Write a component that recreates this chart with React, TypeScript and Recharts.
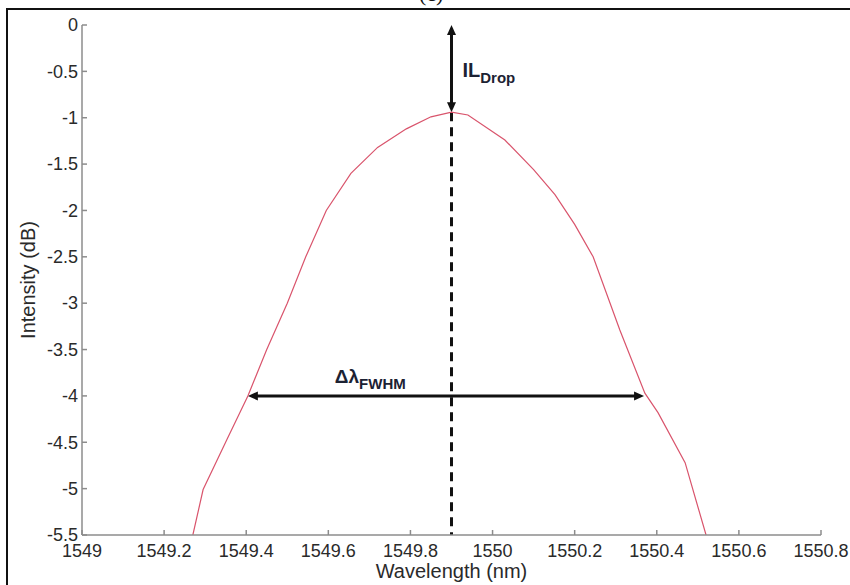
import { LineChart, Line, XAxis, YAxis, ReferenceLine } from 'recharts';

// wavelength (nm) / intensity (dB)
const wavelength = [
  1549.27, 1549.295, 1549.353, 1549.404, 1549.45, 1549.5, 1549.545, 1549.595, 1549.655,
  1549.72, 1549.79, 1549.85, 1549.9, 1549.94, 1550.03, 1550.1,
  1550.152, 1550.2, 1550.245, 1550.31, 1550.371, 1550.403, 1550.469, 1550.52,
];
const intensity = [
  -5.5, -5.01, -4.47, -4.0, -3.5, -3.0, -2.5, -2.0, -1.6,
  -1.32, -1.12, -0.99, -0.94, -0.97, -1.24, -1.56,
  -1.83, -2.15, -2.5, -3.29, -3.97, -4.18, -4.72, -5.5,
];

const xTicks = [1549, 1549.2, 1549.4, 1549.6, 1549.8, 1550, 1550.2, 1550.4, 1550.6, 1550.8];
const yTicks = [0, -0.5, -1, -1.5, -2, -2.5, -3, -3.5, -4, -4.5, -5, -5.5];

// annotation values
const peakWavelength = 1549.9;
const peakLevel = -0.94;
const fwhmLevel = -4;
const fwhmLeft = 1549.404;
const fwhmRight = 1550.369;

const data = wavelength.map((w, i) => ({ w, v: intensity[i] }));

const FONT = '"Liberation Sans", Arial, Helvetica, sans-serif';
const AXIS = '#8c8c8c';
const TEXT = '#2a2a2a';
const TM = 4;
const fmt = (v: number) => String(Number(v.toFixed(1)));

const BottomTick = ({ x, y, payload }: any) => (
  <g>
    <line x1={x} x2={x} y1={y - TM} y2={y - TM - 5} stroke={AXIS} strokeWidth={1.5} />
    <text x={x} y={y + 18} textAnchor="middle" fontSize={18} fontFamily={FONT} fill={TEXT}>
      {fmt(payload.value)}
    </text>
  </g>
);

const LeftTick = ({ x, y, payload }: any) => (
  <g>
    <line x1={x + TM} x2={x + TM + 5} y1={y} y2={y} stroke={AXIS} strokeWidth={1.5} />
    <text x={x} y={y} dy="0.35em" textAnchor="end" fontSize={18} fontFamily={FONT} fill={TEXT}>
      {fmt(payload.value)}
    </text>
  </g>
);

const TopTick = ({ x, y }: any) => (
  <line x1={x} x2={x} y1={y + TM} y2={y + TM + 5} stroke={AXIS} strokeWidth={1.5} />
);

const RightTick = ({ x, y }: any) => (
  <line x1={x - TM} x2={x - TM - 5} y1={y} y2={y} stroke={AXIS} strokeWidth={1.5} />
);

const heads = (x1: number, y1: number, x2: number, y2: number, hl: number, hw: number) => {
  const len = Math.hypot(x2 - x1, y2 - y1) || 1;
  const ux = (x2 - x1) / len;
  const uy = (y2 - y1) / len;
  const tri = (tx: number, ty: number, dx: number, dy: number) => {
    const bx = tx - dx * hl;
    const by = ty - dy * hl;
    return `${tx},${ty} ${bx - dy * hw},${by + dx * hw} ${bx + dy * hw},${by - dx * hw}`;
  };
  return { ux, uy, a: tri(x1, y1, -ux, -uy), b: tri(x2, y2, ux, uy) };
};

const DoubleArrow = ({ x1, y1, x2, y2, children }: any) => {
  const h = heads(x1, y1, x2, y2, 10, 4.5);
  return (
    <g>
      <line
        x1={x1 + h.ux * 6}
        y1={y1 + h.uy * 6}
        x2={x2 - h.ux * 6}
        y2={y2 - h.uy * 6}
        stroke="#111"
        strokeWidth={3}
      />
      <polygon points={h.a} fill="#111" />
      <polygon points={h.b} fill="#111" />
      {children}
    </g>
  );
};

const ILArrow = (p: any) => (
  <DoubleArrow {...p}>
    <text x={p.x1 + 11} y={p.y1 + 52} fontFamily={FONT} fontWeight="bold" fill="#1c2233">
      <tspan fontSize={20}>IL</tspan>
      <tspan fontSize={15} dy={6}>Drop</tspan>
    </text>
  </DoubleArrow>
);

const FwhmArrow = (p: any) => (
  <DoubleArrow {...p}>
    <text x={p.x1 + 87} y={p.y1 - 13} fontFamily={FONT} fontWeight="bold" fill="#1c2233">
      <tspan fontSize={19}>Δλ</tspan>
      <tspan fontSize={15} dy={6}>FWHM</tspan>
    </text>
  </DoubleArrow>
);

const DashedDrop = ({ x1, y1, x2, y2 }: any) => (
  <line x1={x1} y1={y1} x2={x2} y2={y2} stroke="#111" strokeWidth={3} strokeDasharray="9 6" />
);

export default function App() {
  return (
    <div
      style={{
        position: 'absolute',
        left: 0,
        top: 0,
        width: 850,
        height: 585,
        overflow: 'hidden',
        background: '#fff',
      }}
    >
      <div
        style={{
          position: 'absolute',
          left: 6,
          top: 8,
          width: 900,
          height: 700,
          borderTop: '2px solid #111',
          borderLeft: '2px solid #111',
        }}
      />
      <div
        style={{
          position: 'absolute',
          left: 419,
          top: -17,
          fontFamily: '"Liberation Serif", serif',
          fontSize: 22,
          lineHeight: '22px',
          color: '#111',
        }}
      >
        (c)
      </div>
      <div style={{ position: 'absolute', left: 0, top: 0 }}>
        <LineChart width={850} height={585} data={data} margin={{ top: 25, right: 29, bottom: 20, left: 22 }}>
          <XAxis
            dataKey="w"
            type="number"
            domain={[1549, 1550.8]}
            ticks={xTicks}
            allowDataOverflow
            height={30}
            tickSize={0}
            tickMargin={TM}
            tickLine={false}
            tick={<BottomTick />}
            interval={0}
            axisLine={{ stroke: AXIS, strokeWidth: 1.5 }}
            label={({ viewBox }: any) => (
              <text
                x={viewBox.x + viewBox.width / 2}
                y={578}
                textAnchor="middle"
                fontSize={20}
                fontFamily={FONT}
                fill={TEXT}
              >
                Wavelength (nm)
              </text>
            )}
          />
          <XAxis
            xAxisId="top"
            orientation="top"
            type="number"
            domain={[1549, 1550.8]}
            ticks={xTicks}
            allowDataOverflow
            height={0}
            tickSize={0}
            tickMargin={TM}
            tickLine={false}
            tick={<TopTick />}
            interval={0}
            axisLine={{ stroke: AXIS, strokeWidth: 1.5 }}
          />
          <YAxis
            type="number"
            domain={[-5.5, 0]}
            ticks={yTicks}
            allowDataOverflow
            width={60}
            tickSize={0}
            tickMargin={TM}
            tickLine={false}
            tick={<LeftTick />}
            interval={0}
            axisLine={{ stroke: AXIS, strokeWidth: 1.5 }}
            label={({ viewBox }: any) => {
              const cx = 28;
              const cy = viewBox.y + viewBox.height / 2;
              return (
                <text
                  x={cx}
                  y={cy}
                  transform={`rotate(-90, ${cx}, ${cy})`}
                  textAnchor="middle"
                  dominantBaseline="central"
                  fontSize={20}
                  fontFamily={FONT}
                  fill={TEXT}
                >
                  Intensity (dB)
                </text>
              );
            }}
          />
          <YAxis
            yAxisId="right"
            orientation="right"
            type="number"
            domain={[-5.5, 0]}
            ticks={yTicks}
            allowDataOverflow
            width={0}
            tickSize={0}
            tickMargin={TM}
            tickLine={false}
            tick={<RightTick />}
            interval={0}
            axisLine={{ stroke: AXIS, strokeWidth: 1.5 }}
          />
          <ReferenceLine
            segment={[
              { x: peakWavelength, y: peakLevel },
              { x: peakWavelength, y: -5.5 },
            ]}
            shape={<DashedDrop />}
            ifOverflow="visible"
          />
          <ReferenceLine
            segment={[
              { x: peakWavelength, y: 0 },
              { x: peakWavelength, y: peakLevel },
            ]}
            shape={<ILArrow />}
            ifOverflow="visible"
          />
          <ReferenceLine
            segment={[
              { x: fwhmLeft, y: fwhmLevel },
              { x: fwhmRight, y: fwhmLevel },
            ]}
            shape={<FwhmArrow />}
            ifOverflow="visible"
          />
          <Line
            type="linear"
            dataKey="v"
            stroke="#d9546c"
            strokeWidth={1.2}
            dot={false}
            isAnimationActive={false}
          />
        </LineChart>
      </div>
    </div>
  );
}
